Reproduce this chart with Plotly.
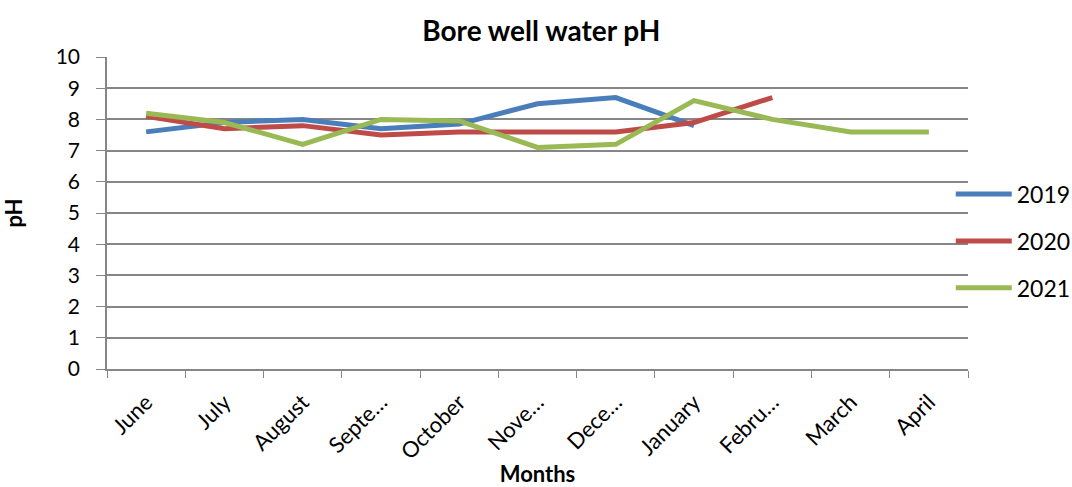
import plotly.graph_objects as go

months = ["June", "July", "August", "Septe…", "October", "Nove…", "Dece…",
          "January", "Febru…", "March", "April"]
ph_2019 = [7.6, 7.9, 8.0, 7.7, 7.85, 8.5, 8.7, 7.8, None, None, None]
ph_2020 = [8.1, 7.7, 7.8, 7.5, 7.6, 7.6, 7.6, 7.9, 8.7, None, None]
ph_2021 = [8.2, 7.9, 7.2, 8.0, 7.95, 7.1, 7.2, 8.6, 8.0, 7.6, 7.6]

series = [("2019", ph_2019, "#4A7EBB"),
          ("2020", ph_2020, "#BE4B48"),
          ("2021", ph_2021, "#98B954")]

fig = go.Figure()
for name, vals, color in series:
    fig.add_trace(go.Scatter(x=months, y=vals, name=name, mode="lines",
                             line=dict(color=color, width=5),
                             legendgroup=name, connectgaps=False))

font = "Lato, 'Open Sans', sans-serif"
fig.update_layout(
    width=1072, height=487,
    paper_bgcolor="white", plot_bgcolor="white",
    margin=dict(l=107, r=104, t=57, b=118, autoexpand=False),
    font=dict(family=font, size=21, color="black"),
    title=dict(text="<b>Bore well water pH</b>", x=0.505, xanchor="center",
               y=0.935, yanchor="middle", font=dict(size=28)),
    legend=dict(x=0.98, xanchor="left", y=0.41, yanchor="middle",
                font=dict(size=23), tracegroupgap=14, itemwidth=56,
                bgcolor="rgba(0,0,0,0)"),
)
fig.update_xaxes(
    type="category", range=[-0.5, 10.5], tickangle=-45, automargin=False,
    tickfont=dict(size=22), ticklabelstandoff=10,
    showline=True, linecolor="#868686", linewidth=1.5,
    ticks="outside", tickson="boundaries", ticklen=7, tickcolor="#868686",
    showgrid=False,
    title=dict(text="<b>Months</b>", font=dict(size=22), standoff=18),
)
fig.update_yaxes(
    range=[0, 10], dtick=1, automargin=False, ticklabelstandoff=12,
    showline=True, linecolor="#868686", linewidth=1.5,
    ticks="outside", ticklen=9, tickcolor="#868686",
    showgrid=True, gridcolor="#868686", gridwidth=1.5,
    zeroline=False,
    title=dict(text="<b>pH</b>", font=dict(size=22), standoff=28),
)

fig.write_html("out.html", config={"displayModeBar": False},
               post_script="document.body.style.margin='0';")
